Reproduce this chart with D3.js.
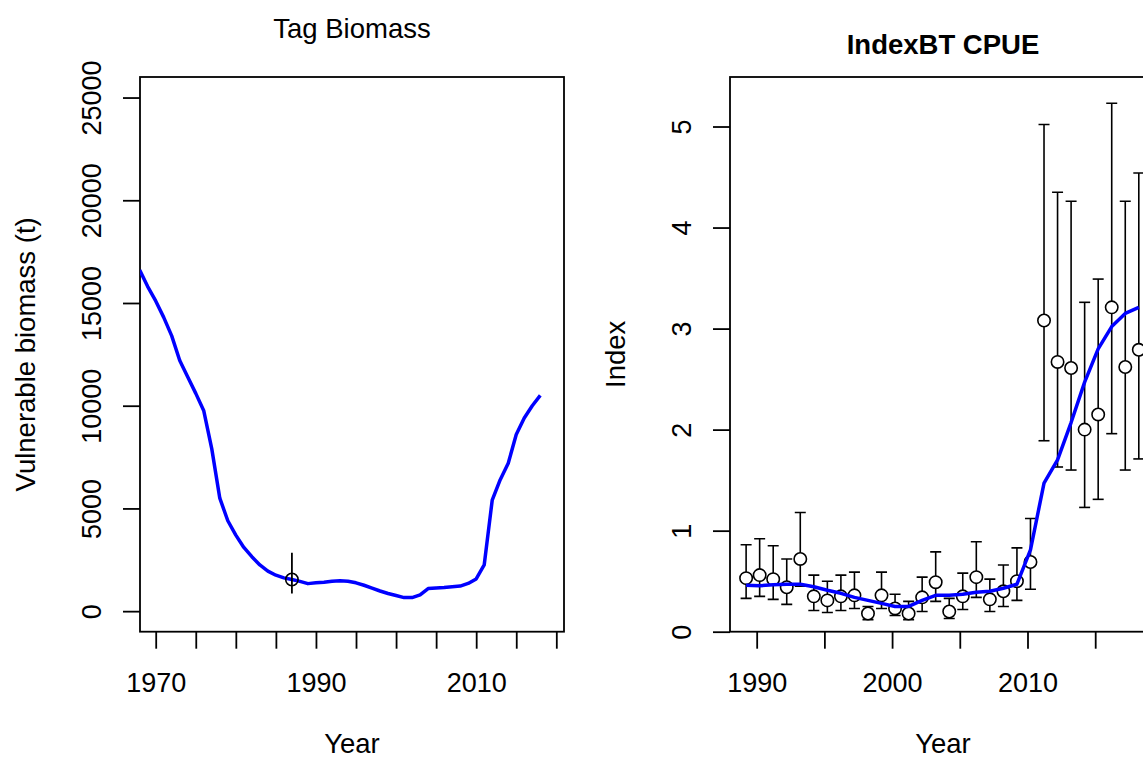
<!DOCTYPE html>
<html><head><meta charset="utf-8">
<script src="https://cdn.jsdelivr.net/npm/d3@7"></script>
<style>
body{margin:0;background:#fff}
svg{display:block}
text{font-family:"Liberation Sans",Arial,Helvetica,sans-serif;fill:#000}
</style>
</head><body>
<svg id="chart" width="1143" height="760"></svg>
<script>
// ---------- Left panel: Tag Biomass ----------
const bioYears = [1968,1969,1970,1971,1972,1973,1974,1975,1976,1977,1978,1979,1980,1981,1982,1983,1984,1985,1986,1987,1988,1989,1990,1991,1992,1993,1994,1995,1996,1997,1998,1999,2000,2001,2002,2003,2004,2005,2006,2007,2008,2009,2010,2011,2012,2013,2014,2015,2016,2017,2018];
const bioValues = [16600,15800,15100,14300,13400,12200,11400,10600,9750,7900,5500,4400,3700,3100,2650,2250,1950,1750,1620,1540,1450,1340,1380,1410,1460,1480,1460,1380,1260,1120,980,860,760,660,660,790,1100,1130,1150,1190,1220,1350,1570,2250,5400,6400,7200,8600,9400,10000,10500];
const tagYears = [1987];
const tagValues = [1540];
const tagLower = [860];
const tagUpper = [2840];
const bioXTicks = [1970,1975,1980,1985,1990,1995,2000,2005,2010,2015,2020];
const bioXLabels = [1970,1990,2010];
const bioYTicks = [0,5000,10000,15000,20000,25000];

// ---------- Right panel: IndexBT CPUE ----------
const cpueYears = [1989,1990,1991,1992,1993,1994,1995,1996,1997,1998,1999,2000,2001,2002,2003,2004,2005,2006,2007,2008,2009,2010,2011,2012,2013,2014,2015,2016,2017,2018];
const cpueObs   = [0.53,0.56,0.52,0.44,0.72,0.35,0.31,0.35,0.36,0.18,0.36,0.23,0.18,0.34,0.49,0.20,0.35,0.54,0.32,0.40,0.50,0.69,3.08,2.67,2.61,2.00,2.15,3.21,2.62,2.79];
const cpueLower = [0.33,0.35,0.32,0.27,0.45,0.21,0.19,0.21,0.23,0.12,0.23,0.16,0.12,0.20,0.30,0.13,0.22,0.34,0.20,0.25,0.31,0.42,1.89,1.63,1.60,1.23,1.31,1.96,1.60,1.71];
const cpueUpper = [0.86,0.92,0.85,0.72,1.18,0.56,0.50,0.56,0.59,0.25,0.59,0.37,0.30,0.54,0.79,0.33,0.58,0.89,0.52,0.66,0.83,1.12,5.02,4.35,4.26,3.26,3.49,5.23,4.26,4.54];
const cpueFit   = [0.46,0.455,0.465,0.47,0.47,0.445,0.41,0.38,0.34,0.31,0.28,0.25,0.25,0.31,0.36,0.36,0.37,0.39,0.40,0.43,0.47,0.81,1.47,1.70,2.07,2.47,2.80,3.02,3.15,3.21];
const cpueXTicks = [1990,1995,2000,2005,2010,2015,2020];
const cpueXLabels = [1990,2000,2010];
const cpueYTicks = [0,1,2,3,4,5];

// ---------- layout / style ----------
const FS = 27, TFS = 27.5, LFS = 27.5, TICK = 17, SW = 1.8;
const BLUE = "#0000ff";
const FONT = '"Liberation Sans",Arial,sans-serif';
const svg = d3.select("#chart");
svg.append("rect").attr("width",1143).attr("height",760).attr("fill","#fff");

function panel(o){
  const g = svg.append("g");
  const x = d3.scaleLinear().domain(o.xDomain).range([o.left,o.right]);
  const y = d3.scaleLinear().domain(o.yDomain).range([o.bottom,o.top]);
  const clipId = "clip"+o.id;
  svg.append("clipPath").attr("id",clipId).append("rect")
     .attr("x",o.left).attr("y",o.top).attr("width",o.right-o.left).attr("height",o.bottom-o.top);

  // x axis
  const xa = g.append("g").attr("transform",`translate(0,${o.bottom})`)
    .call(d3.axisBottom(x).tickValues(o.xTicks).tickSize(TICK).tickSizeOuter(0)
      .tickFormat(d => o.xLabels.includes(d) ? String(d) : ""));
  xa.select(".domain").remove();
  xa.selectAll("line").attr("stroke","#000").attr("stroke-width",SW);
  xa.selectAll("text").attr("y",60).attr("dy",0).attr("font-size",FS)
    .attr("font-family",null).style("font-family",FONT).attr("fill","#000");

  // y axis
  const ya = g.append("g").attr("transform",`translate(${o.left},0)`)
    .call(d3.axisLeft(y).tickValues(o.yTicks).tickSize(TICK).tickSizeOuter(0).tickFormat(d => String(d)));
  ya.select(".domain").remove();
  ya.selectAll("line").attr("stroke","#000").attr("stroke-width",SW);
  ya.selectAll("text").attr("x",null).attr("dy",0).attr("text-anchor","middle")
    .attr("transform","translate(-39,0) rotate(-90)").attr("font-size",FS)
    .attr("font-family",null).style("font-family",FONT).attr("fill","#000");

  // box
  g.append("rect").attr("x",o.left).attr("y",o.top).attr("width",o.right-o.left).attr("height",o.bottom-o.top)
    .attr("fill","none").attr("stroke","#000").attr("stroke-width",SW);

  // titles
  const cx = (o.left+o.right)/2, cy = (o.top+o.bottom)/2;
  g.append("text").attr("x",cx).attr("y",o.titleY).attr("text-anchor","middle")
    .attr("font-size",TFS).attr("font-weight",o.titleBold?"bold":"normal").text(o.title);
  g.append("text").attr("x",cx).attr("y",753).attr("text-anchor","middle").attr("font-size",LFS).text("Year");
  g.append("text").attr("transform",`translate(${o.left-105},${cy}) rotate(-90)`).attr("text-anchor","middle")
    .attr("font-size",LFS).text(o.ylab);

  const plot = g.append("g").attr("clip-path",`url(#${clipId})`);
  return {x,y,plot};
}

// Left panel
const L = panel({id:"L", left:140, right:564, top:77, bottom:631.7,
  xDomain:[1968.04,2020.96], yDomain:[-1000,26000],
  xTicks:bioXTicks, xLabels:bioXLabels, yTicks:bioYTicks,
  title:"Tag Biomass", titleY:38, titleBold:false, ylab:"Vulnerable biomass (t)"});

L.plot.append("path").datum(bioYears.map((yr,i)=>[yr,bioValues[i]]))
  .attr("fill","none").attr("stroke",BLUE).attr("stroke-width",3.5).attr("stroke-linejoin","round")
  .attr("d", d3.line().x(d=>L.x(d[0])).y(d=>L.y(d[1])));
tagYears.forEach((yr,i)=>{
  L.plot.append("line").attr("x1",L.x(yr)).attr("x2",L.x(yr))
    .attr("y1",L.y(tagLower[i])).attr("y2",L.y(tagUpper[i])).attr("stroke","#000").attr("stroke-width",1.8);
  L.plot.append("circle").attr("cx",L.x(yr)).attr("cy",L.y(tagValues[i])).attr("r",6.2)
    .attr("fill","none").attr("stroke","#000").attr("stroke-width",1.6);
});

// Right panel
const R = panel({id:"R", left:730, right:1156, top:77, bottom:631.7,
  xDomain:[1988.03,2019.49], yDomain:[0,5.49],
  xTicks:cpueXTicks, xLabels:cpueXLabels, yTicks:cpueYTicks,
  title:"IndexBT CPUE", titleY:54, titleBold:true, ylab:"Index"});

const cpueShift = 0.22; // observation timing within the year
const cx = yr => R.x(yr + cpueShift);
const CAP = 5.5;
cpueYears.forEach((yr,i)=>{
  const xx = cx(yr);
  R.plot.append("line").attr("x1",xx).attr("x2",xx).attr("y1",R.y(cpueLower[i])).attr("y2",R.y(cpueUpper[i]))
    .attr("stroke","#000").attr("stroke-width",1.6);
  [cpueLower[i],cpueUpper[i]].forEach(v=>{
    R.plot.append("line").attr("x1",xx-CAP).attr("x2",xx+CAP).attr("y1",R.y(v)).attr("y2",R.y(v))
      .attr("stroke","#000").attr("stroke-width",1.6);
  });
});
R.plot.selectAll("circle.obs").data(cpueYears).enter().append("circle").attr("class","obs")
  .attr("cx",d=>cx(d)).attr("cy",(d,i)=>R.y(cpueObs[i])).attr("r",6.2)
  .attr("fill","#fff").attr("stroke","#000").attr("stroke-width",1.6);
R.plot.append("path").datum(cpueYears.map((yr,i)=>[yr,cpueFit[i]]))
  .attr("fill","none").attr("stroke",BLUE).attr("stroke-width",3.5).attr("stroke-linejoin","round")
  .attr("d", d3.line().x(d=>cx(d[0])).y(d=>R.y(d[1])));
</script>
</body></html>
